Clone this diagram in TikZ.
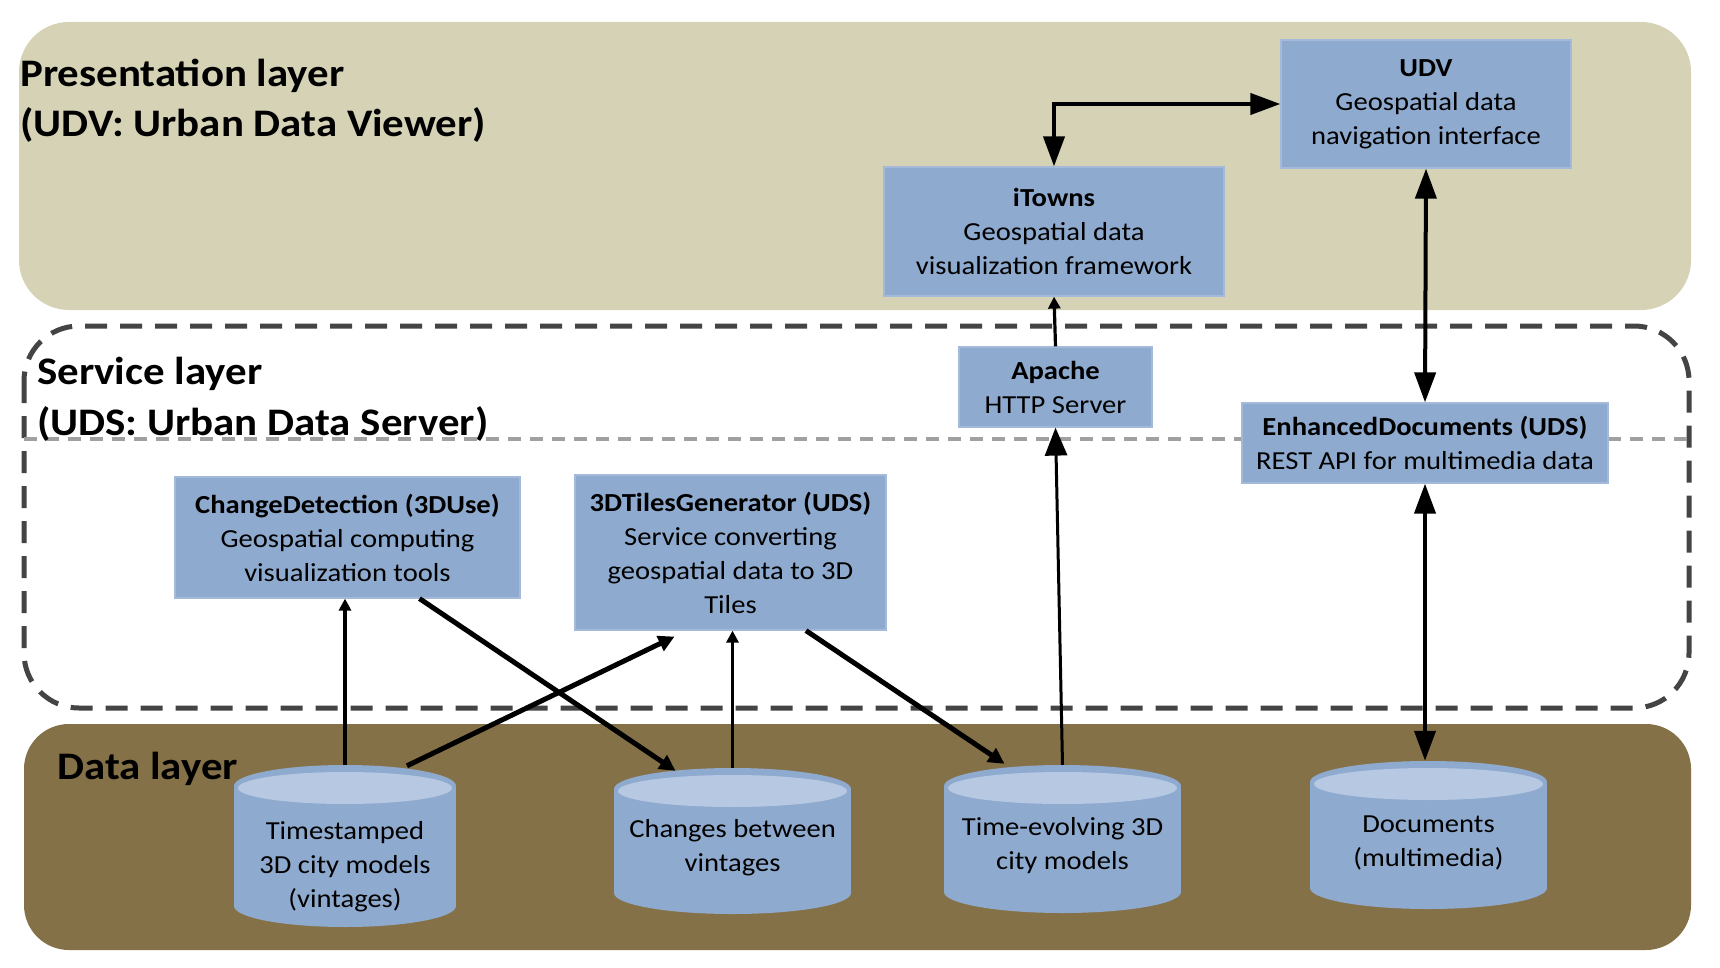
\documentclass[tikz,border=0pt]{standalone}
\usepackage{fontspec}
\setmainfont{Carlito}[FakeStretch=1.1]
\usetikzlibrary{arrows.meta,calc}
\definecolor{presfill}{RGB}{214,210,181}
\definecolor{datafill}{RGB}{133,113,71}
\definecolor{boxblue}{RGB}{143,170,207}
\definecolor{boxedge}{RGB}{165,186,218}
\definecolor{toplight}{RGB}{182,200,226}
\definecolor{svcdash}{RGB}{68,68,68}
\definecolor{graydash}{RGB}{160,160,160}
\newcommand\dbcyl[5]{%
  \node[cylbox, minimum width={2*#5}, minimum height={#4-#3}] (#1) at (#2,{(#3+#4)/2}) {};
  \fill[boxblue] ({#2-#5},{#3+21}) rectangle ({#2+#5},{#4-21});
  \fill[boxblue] (#2,{#4-21}) ellipse [x radius=#5, y radius=21];
  \fill[boxblue] (#2,{#3+21}) ellipse [x radius=#5, y radius=21];
  \fill[toplight] (#2,{#3+23}) ellipse [x radius={#5-4}, y radius=16];
}
\begin{document}
\begin{tikzpicture}[x=1pt,y=-1pt,
  comp/.style={fill=boxblue, draw=boxedge, line width=1.2pt, align=center, inner sep=0pt,
    font=\fontsize{26}{34}\selectfont},
  layertitle/.style={anchor=base west, inner sep=0pt, font=\fontsize{39}{50}\selectfont\bfseries},
  cylbox/.style={inner sep=0pt},
  cyltext/.style={align=center, inner sep=0pt, font=\fontsize{26}{34}\selectfont},
  dblarrow/.style={line width=4pt, {Triangle[length=30pt,width=21pt]}-{Triangle[length=30pt,width=21pt]}},
  medarrow/.style={line width=3pt, -{Triangle[length=28pt,width=22pt]}},
  thinarrow/.style={line width=3.2pt, -{Triangle[length=12pt,width=12pt]}},
  diagarrow/.style={line width=5pt, -{Triangle[length=16pt,width=16pt]}},
]
\useasboundingbox (0,0) rectangle (1720,968);
\fill[white] (0,0) rectangle (1720,968);

% layers
\fill[presfill, rounded corners=50pt] (19,22) rectangle (1691,310);
\fill[datafill, rounded corners=45pt] (24,724) rectangle (1691,950);
\draw[svcdash, line width=5pt, dash pattern=on 22pt off 13pt, rounded corners=55pt] (24,326) rectangle (1689,708);
\draw[graydash, line width=4pt, dash pattern=on 13pt off 9pt] (24,439) -- (1689,439);

% layer titles
\node[layertitle] (pt1) at (20,87) {Presentation layer};
\node[layertitle] (pt2) at (20,137) {(UDV: Urban Data Viewer)};
\node[layertitle] (st1) at (37,384) {Service layer};
\node[layertitle] (st2) at (37,435) {(UDS: Urban Data Server)};
\node[layertitle] (dt1) at (57,779) {Data layer};

% components
\node[comp, minimum width=290, minimum height=128] (udv) at (1426,104)
  {\textbf{UDV}\\Geospatial data\\navigation interface};
\node[comp, minimum width=340, minimum height=129] (itowns) at (1054,231.5)
  {\textbf{iTowns}\\Geospatial data\\visualization framework};
\node[comp, minimum width=193, minimum height=80] (apache) at (1055.5,387)
  {\textbf{Apache}\\HTTP Server};
\node[comp, minimum width=366, minimum height=80] (ed) at (1425,443)
  {\textbf{EnhancedDocuments (UDS)}\\REST API for multimedia data};
\node[comp, minimum width=345, minimum height=121] (cd) at (347.5,537.5)
  {\textbf{ChangeDetection (3DUse)}\\Geospatial computing\\visualization tools};
\node[comp, minimum width=311, minimum height=155] (tdt) at (730.5,552.5)
  {\textbf{3DTilesGenerator (UDS)}\\Service converting\\geospatial data to 3D\\Tiles};

% data stores
\dbcyl{c1}{345}{765}{927}{111}
\dbcyl{c2}{732.5}{768}{914}{118.5}
\dbcyl{c3}{1062.5}{765}{913}{118.5}
\dbcyl{c4}{1428.5}{761}{909}{118.5}
\node[cyltext] (c1t) at (345,867) {Timestamped\\3D city models\\(vintages)};
\node[cyltext] (c2t) at (732.5,848) {Changes between\\vintages};
\node[cyltext] (c3t) at (1062.5,846) {Time-evolving 3D\\city models};
\node[cyltext] (c4t) at (1428.5,843) {Documents\\(multimedia)};

% connectors
\draw[dblarrow] (itowns.north) |- (udv.west);
\draw[thinarrow] (apache.north) -- (itowns.south);
\draw[dblarrow] (udv.south) -- (ed.north);
\draw[dblarrow] (ed.south) -- (ed.south |- c4.north);
\draw[medarrow] (c3.north) -- (apache.south);
\draw[thinarrow] (c1.north) -- (c1.north |- cd.south);
\draw[thinarrow] (c2.north) -- (c2.north |- tdt.south);
\draw[diagarrow] ($(cd.south)+(72,0)$) -- ($(c2.north)+(-57,3)$);
\draw[diagarrow] ($(c1.north)+(62,1)$) -- ($(tdt.south)+(-56,6)$);
\draw[diagarrow] ($(tdt.south)+(75.5,0)$) -- ($(c3.north)+(-58,-1)$);
\end{tikzpicture}
\end{document}
